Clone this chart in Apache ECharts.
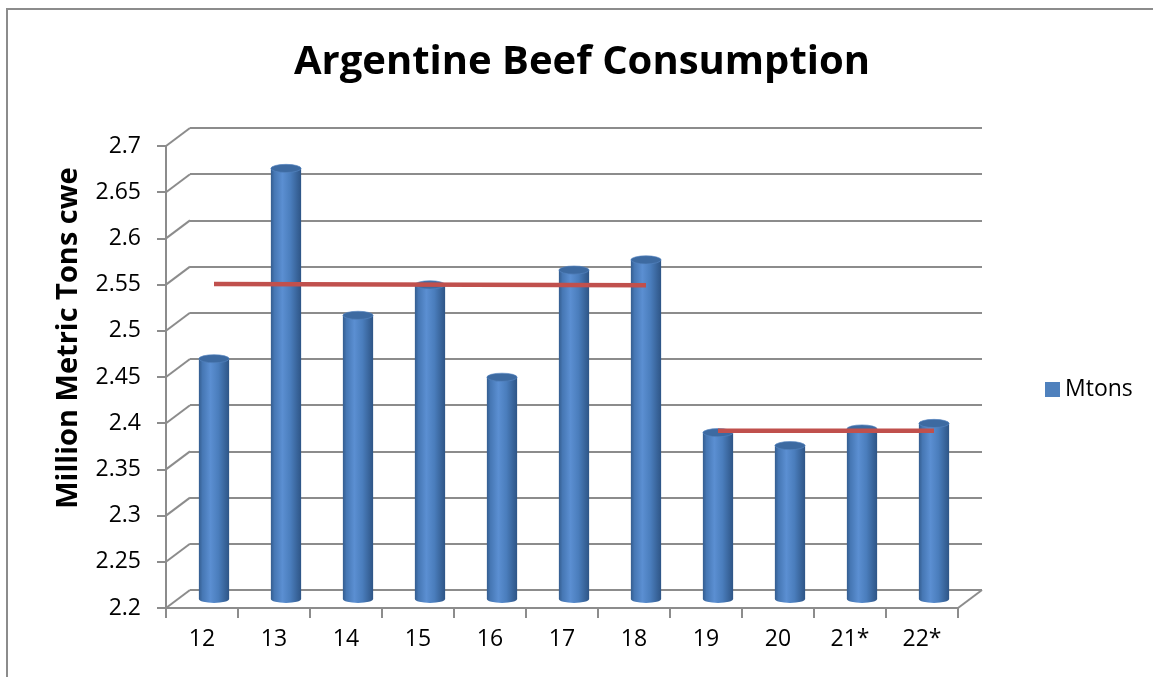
<!DOCTYPE html>
<html>
<head>
<meta charset="utf-8">
<script src="https://cdn.jsdelivr.net/npm/echarts@6/dist/echarts.min.js"></script>
<style>
html,body{margin:0;padding:0;background:#fff;}
#chart{width:1153px;height:677px;}
</style>
</head>
<body>
<div id="chart"></div>
<script>
// ---- data ----
const categories = ['12', '13', '14', '15', '16', '17', '18', '19', '20', '21*', '22*'];
const mtons = [2.46, 2.666, 2.507, 2.54, 2.44, 2.556, 2.567, 2.38, 2.366, 2.384, 2.39];
const yTicks = [2.2, 2.25, 2.3, 2.35, 2.4, 2.45, 2.5, 2.55, 2.6, 2.65, 2.7];
const avgEarlySpan = ['12', '18'];
const avgEarly = [2.541, 2.5395];
const avgLateSpan = ['19', '22*'];
const avgLate = [2.382, 2.382];

// ---- layout ----
const FONT = 'Open Sans';
const GRAY = '#8c8c8c';
const Y_MIN = 2.2, Y_MAX = 2.7, Y_STEP = 0.05;
const GL = 166, GT = 146, GW = 792, GH = 462;   // front plane
const DX = 24, DY = -18;                          // depth of the 3D box

function gridAt(f) {
  return { left: GL + DX * f, top: GT + DY * f, width: GW, height: GH, containLabel: false };
}
function hiddenX(gi) {
  return { type: 'category', gridIndex: gi, data: categories, show: false };
}
function hiddenY(gi, split) {
  return {
    type: 'value', gridIndex: gi, min: Y_MIN, max: Y_MAX, interval: Y_STEP,
    axisLine: { show: false }, axisTick: { show: false }, axisLabel: { show: false },
    splitLine: { show: !!split, lineStyle: { color: GRAY, width: 2 } }
  };
}

const chart = echarts.init(document.getElementById('chart'), null, { renderer: 'canvas' });

const cylGradient = () => new echarts.graphic.LinearGradient(0, 0, 1, 0, [
  { offset: 0, color: '#345d8f' },
  { offset: 0.12, color: '#4677b4' },
  { offset: 0.38, color: '#5b8fd2' },
  { offset: 0.65, color: '#4a7dbc' },
  { offset: 1, color: '#2e5586' }
]);

const option = {
  backgroundColor: '#ffffff',
  animation: false,
  textStyle: { fontFamily: FONT },
  grid: [gridAt(0), gridAt(0.5), gridAt(1)],
  xAxis: [
    {
      type: 'category', gridIndex: 0, data: categories,
      axisLine: { show: true, lineStyle: { color: GRAY, width: 2 } },
      axisTick: { show: true, length: 10, lineStyle: { color: GRAY, width: 2 } },
      axisLabel: { color: '#000', fontSize: 23, fontFamily: FONT, margin: 20 },
      splitLine: { show: false }
    },
    hiddenX(1),
    hiddenX(2)
  ],
  yAxis: [
    {
      type: 'value', gridIndex: 0, min: Y_MIN, max: Y_MAX, interval: Y_STEP,
      axisLine: { show: true, lineStyle: { color: GRAY, width: 2 } },
      axisTick: { show: true, length: 9, lineStyle: { color: GRAY, width: 2 } },
      axisLabel: { color: '#000', fontSize: 23, fontFamily: FONT, margin: 25 },
      splitLine: { show: false }
    },
    hiddenY(1, false),
    hiddenY(2, true)
  ],
  legend: {
    left: 1040, top: 373, orient: 'vertical',
    itemWidth: 15, itemHeight: 15, itemGap: 7,
    textStyle: { fontSize: 23, color: '#000', fontFamily: FONT },
    data: [{ name: 'Mtons', icon: 'rect', itemStyle: { color: '#4f81bd' } }]
  },
  graphic: [
    {
      type: 'rect', silent: true,
      shape: { x: 7, y: 9, width: 1300, height: 800 },
      style: { fill: 'none', stroke: GRAY, lineWidth: 2 }
    },
    {
      type: 'text', x: 582, y: 63, silent: true,
      style: {
        text: 'Argentine Beef Consumption', fill: '#000',
        font: 'bold 40px "Open Sans"', align: 'center', verticalAlign: 'middle'
      }
    },
    {
      type: 'text', x: 69, y: 338, rotation: Math.PI / 2, silent: true,
      style: {
        text: 'Million Metric Tons cwe', fill: '#000',
        font: 'bold 29px "Open Sans"', align: 'center', verticalAlign: 'middle'
      }
    }
  ],
  series: [
    {
      // depth connectors of the 3D box (left wall ticks and floor right edge)
      type: 'custom', xAxisIndex: 0, yAxisIndex: 0, silent: true, clip: false,
      data: yTicks.map(v => [0, v]),
      renderItem: function (params, api) {
        const cs = params.coordSys;
        const p = api.coord([0, api.value(1)]);
        const x0 = cs.x;
        const children = [{
          type: 'line',
          shape: { x1: x0, y1: p[1], x2: x0 + DX, y2: p[1] + DY },
          style: { stroke: GRAY, lineWidth: 2 }
        }];
        if (params.dataIndex === 0) {
          children.push({
            type: 'line',
            shape: { x1: x0 + cs.width, y1: p[1], x2: x0 + cs.width + DX, y2: p[1] + DY },
            style: { stroke: GRAY, lineWidth: 2 }
          });
        }
        return { type: 'group', children: children };
      }
    },
    {
      name: 'Mtons',
      type: 'custom', xAxisIndex: 1, yAxisIndex: 1, clip: false,
      itemStyle: { color: '#4f81bd' },
      data: mtons.map((v, i) => [i, v]),
      encode: { x: 0, y: 1 },
      renderItem: function (params, api) {
        const idx = api.value(0);
        const top = api.coord([idx, api.value(1)]);
        const base = api.coord([idx, Y_MIN]);
        const band = api.size([1, 0])[0];
        const w = band * 0.42;
        const r = w / 2;
        return {
          type: 'group',
          children: [
            {
              type: 'circle', x: top[0], y: base[1], scaleY: 0.26,
              shape: { cx: 0, cy: 0, r: r },
              style: { fill: cylGradient() }
            },
            {
              type: 'rect',
              shape: { x: top[0] - r, y: top[1], width: w, height: base[1] - top[1] },
              style: { fill: cylGradient() }
            },
            {
              type: 'circle', x: top[0], y: top[1], scaleY: 0.27,
              shape: { cx: 0, cy: 0, r: r },
              style: { fill: '#3d6aa1', stroke: '#5585c2', lineWidth: 1, strokeNoScale: true }
            }
          ]
        };
      }
    },
    {
      type: 'line', xAxisIndex: 1, yAxisIndex: 1, silent: true,
      symbol: 'none',
      lineStyle: { color: '#c0504d', width: 4.5 },
      data: [[avgEarlySpan[0], avgEarly[0]], [avgEarlySpan[1], avgEarly[1]]],
      z: 5
    },
    {
      type: 'line', xAxisIndex: 1, yAxisIndex: 1, silent: true,
      symbol: 'none',
      lineStyle: { color: '#c0504d', width: 4.5 },
      data: [[avgLateSpan[0], avgLate[0]], [avgLateSpan[1], avgLate[1]]],
      z: 5
    }
  ]
};
chart.setOption(option);
</script>
</body>
</html>
